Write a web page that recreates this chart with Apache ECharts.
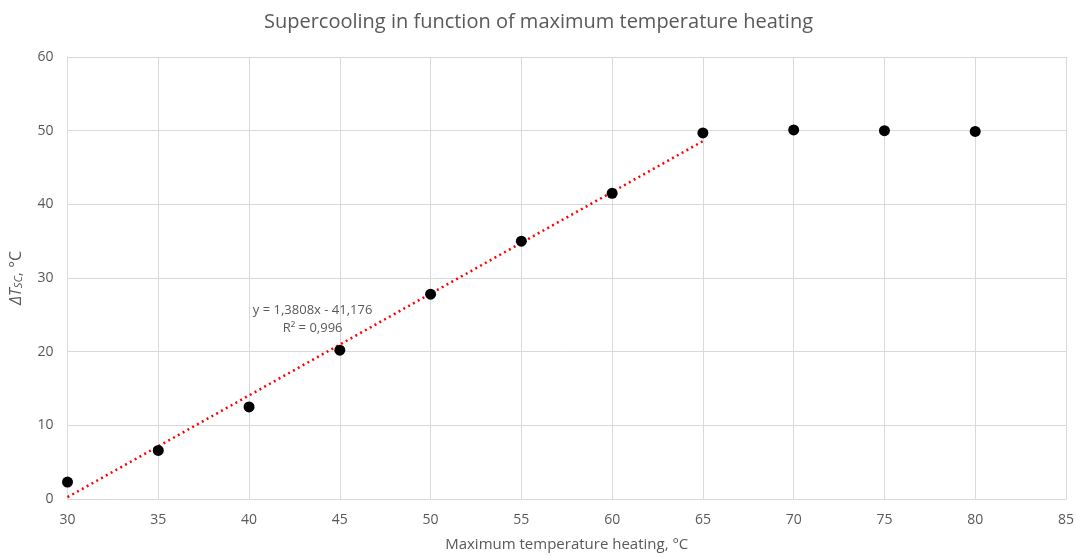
<!DOCTYPE html>
<html>
<head>
<meta charset="utf-8">
<script src="https://cdn.jsdelivr.net/npm/echarts@6/dist/echarts.min.js"></script>
<style>
  html, body { margin: 0; padding: 0; background: #fff; }
  #chart { width: 1077px; height: 557px; }
</style>
</head>
<body>
<div id="chart"></div>
<script>
// measured points
const tempHeating = [30, 35, 40, 45, 50, 55, 60, 65, 70, 75, 80];
const supercooling = [2.3, 6.6, 12.5, 20.2, 27.8, 35.0, 41.5, 49.7, 50.1, 50.0, 49.9];
// linear trend line ends (y = 1,3808x - 41,176)
const trendX = [30, 65];
const trendY = [0.25, 48.58];
const trendLabel = ['y = 1,3808x - 41,176', 'R² = 0,996'];

const font = '"Open Sans", sans-serif';
const grey = '#595959';
const gridColor = '#d9d9d9';

const chart = echarts.init(document.getElementById('chart'));
chart.setOption({
  animation: false,
  textStyle: { fontFamily: font },
  title: {
    text: 'Supercooling in function of maximum temperature heating',
    left: 'center',
    top: 7,
    textStyle: { fontFamily: font, fontSize: 20, fontWeight: 'normal', color: grey },
  },
  grid: { left: 67, right: 10, top: 57, bottom: 52 },
  xAxis: {
    type: 'value',
    min: 30,
    max: 85,
    interval: 5,
    name: 'Maximum temperature heating, °C',
    nameLocation: 'middle',
    nameGap: 38,
    nameTextStyle: { fontFamily: font, fontSize: 15, color: grey },
    axisLine: { lineStyle: { color: gridColor } },
    axisTick: { show: false },
    axisLabel: { fontFamily: font, fontSize: 14, color: grey, margin: 14 },
    splitLine: { lineStyle: { color: gridColor, width: 1 } },
  },
  yAxis: {
    type: 'value',
    min: 0,
    max: 60,
    interval: 10,
    name: '{i|ΔT}{s|SC}{n|, °C}',
    nameLocation: 'middle',
    nameGap: 43,
    nameRotate: 90,
    nameTextStyle: {
      rich: {
        i: { fontFamily: font, fontSize: 16, fontStyle: 'italic', color: grey },
        s: { fontFamily: font, fontSize: 11, fontStyle: 'italic', color: grey, verticalAlign: 'bottom', padding: [6, 0, 0, 0] },
        n: { fontFamily: font, fontSize: 16, color: grey },
      },
    },
    axisLine: { show: true, lineStyle: { color: gridColor } },
    axisTick: { show: false },
    axisLabel: { fontFamily: font, fontSize: 14, color: grey, margin: 14 },
    splitLine: { lineStyle: { color: gridColor, width: 1 } },
  },
  series: [
    {
      type: 'line',
      data: trendX.map((x, i) => [x, trendY[i]]),
      symbol: 'none',
      lineStyle: { color: '#ff0000', width: 2.5, type: [2, 3.5] },
      z: 2,
      markPoint: {
        symbol: 'rect',
        symbolSize: 0,
        data: [{ coord: [43.5, 24.4] }],
        label: {
          show: true,
          formatter: trendLabel[0] + '\n' + '{r|' + trendLabel[1] + '}',
          fontFamily: font,
          fontSize: 13,
          color: grey,
          lineHeight: 18,
          align: 'center',
          rich: { r: { fontFamily: font, fontSize: 13, color: grey, align: 'center' } },
        },
      },
    },
    {
      type: 'scatter',
      data: tempHeating.map((x, i) => [x, supercooling[i]]),
      symbol: 'circle',
      symbolSize: 11,
      itemStyle: { color: '#000', opacity: 1 },
      z: 3,
    },
  ],
});
</script>
</body>
</html>
